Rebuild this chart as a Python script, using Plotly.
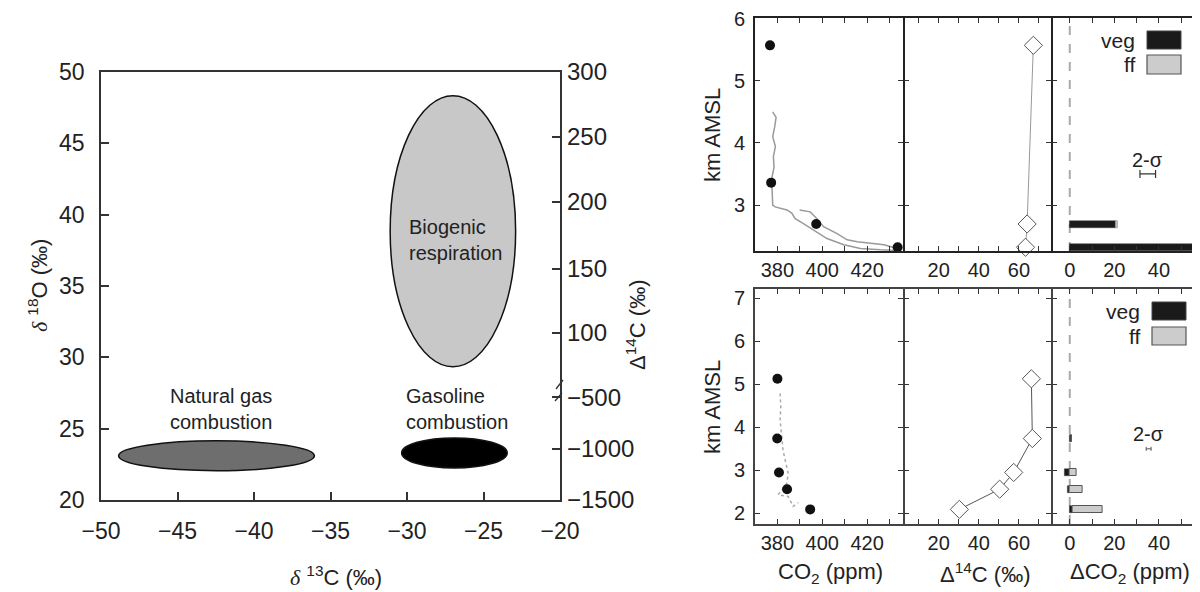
import plotly.graph_objects as go

# ---------------- Left panel: source signatures ----------------
src_labels = ["Biogenic<br>respiration", "Natural gas<br>combustion", "Gasoline<br>combustion"]
src_d13c_center = [-27.0, -42.45, -26.9]
src_d13c_halfwidth = [4.1, 6.4, 3.45]
src_d18o_center = [38.84, 23.1, 23.3]
src_d18o_halfwidth = [9.5, 1.05, 1.05]
src_label_x = [-30.0, -45.6, -30.2]
src_label_y = [38.2, 26.35, 26.35]
src_fill = ["#c8c8c8", "#6e6e6e", "#000000"]

d13c_ticks = [-50, -45, -40, -35, -30, -25, -20]
d18o_ticks = [20, 25, 30, 35, 40, 45, 50]
d14c_tick_labels = ["300", "250", "200", "150", "100", "\u2212500", "\u22121000", "\u22121500"]
d14c_tick_pos = [50.0, 45.44, 40.9, 36.22, 31.7, 27.2, 23.57, 20.0]

# ---------------- Right panels: profiles ----------------
# top row
top_dot_alt = [5.57, 3.36, 2.695, 2.32]
top_dot_co2 = [376.7, 377.2, 397.3, 433.6]
top_lineA_co2 = [377.9, 379.4, 378.8, 377.9, 379.1, 378.2, 378.5, 377.6, 377.6, 377.5, 377.9, 379.0,
                 384.2, 386.4, 387.9, 391.6, 396.1, 402.1, 409.6, 417.0, 426.0, 433.5]
top_lineA_alt = [4.50, 4.41, 4.26, 4.10, 3.94, 3.78, 3.61, 3.45, 3.29, 3.35, 3.00, 2.97,
                 2.92, 2.87, 2.78, 2.70, 2.60, 2.46, 2.36, 2.30, 2.28, 2.27]
top_lineB_co2 = [389.9, 394.6, 397.3, 400.6, 406.6, 411.1, 415.6, 421.5, 427.5, 433.5]
top_lineB_alt = [2.92, 2.89, 2.79, 2.65, 2.54, 2.44, 2.41, 2.39, 2.36, 2.30]
top_d14c_alt = [5.57, 2.695, 2.32]
top_d14c = [67.2, 64.1, 63.3]
top_bar_alt = [2.69, 2.32]
top_veg = [20.4, 55.7]
top_ff = [0.9, 1.8]
top_sigma = [35.0, 3.5, 3.5]  # x, altitude, half width

# bottom row
bot_dot_alt = [5.13, 3.74, 2.95, 2.56, 2.09]
bot_dot_co2 = [380.0, 379.9, 380.7, 384.3, 394.6]
bot_prof_co2 = [381.2, 381.5, 381.2, 381.8, 382.5, 383.6, 384.8, 384.2, 380.3, 384.8, 387.0, 389.3]
bot_prof_alt = [4.79, 4.48, 4.17, 3.86, 3.47, 3.20, 2.93, 2.70, 2.43, 2.39, 2.16, 2.25]
bot_d14c = [66.2, 66.7, 57.4, 50.4, 30.3]
bot_bar_alt = [3.74, 2.95, 2.56, 2.09]
bot_veg = [0.7, -2.4, -1.0, 1.4]
bot_ff = [0.0, 3.0, 5.8, 13.4]
bot_sigma = [35.4, 3.5, 1.1]

co2_ticks = [380, 390, 400, 410, 420, 430]
co2_ticktext = ["380", "", "400", "", "420", ""]
d14c_ticks = [10, 20, 30, 40, 50, 60, 70]
d14c_ticktext = ["", "20", "", "40", "", "60", ""]
dco2_ticks = [0, 10, 20, 30, 40, 50]
dco2_ticktext = ["0", "", "20", "", "40", ""]
top_alt_ticks = [3, 4, 5, 6]
bot_alt_ticks = [2, 3, 4, 5, 6, 7]

# page has an 8 px body margin: work in page pixels and convert
OFF = 8
W, H = 1200 - OFF, 592 - OFF
def px(x):
    return (x - OFF) / W
def py(y):
    return 1 - (y - OFF) / H
def dx(a, b):
    return [px(a), px(b)]
def dy(top, bot):
    return [py(bot), py(top)]

FONT = "Liberation Sans, Arial, sans-serif"
TXT = "#222222"

fig = go.Figure()

# ---------- left panel traces ----------
fig.add_trace(go.Scatter(x=src_d13c_center, y=src_d18o_center, mode="markers",
                         marker=dict(opacity=0), hoverinfo="skip", showlegend=False,
                         xaxis="x", yaxis="y"))
fig.add_trace(go.Scatter(x=src_d13c_center, y=src_d18o_center, mode="markers",
                         marker=dict(opacity=0), hoverinfo="skip", showlegend=False,
                         xaxis="x", yaxis="y2"))

shapes = []
annotations = []
for i in range(len(src_labels)):
    shapes.append(dict(type="circle", xref="x", yref="y",
                       x0=src_d13c_center[i] - src_d13c_halfwidth[i],
                       x1=src_d13c_center[i] + src_d13c_halfwidth[i],
                       y0=src_d18o_center[i] - src_d18o_halfwidth[i],
                       y1=src_d18o_center[i] + src_d18o_halfwidth[i],
                       fillcolor=src_fill[i], line=dict(color="#111111", width=1.5)))
    annotations.append(dict(xref="x", yref="y", x=src_label_x[i], y=src_label_y[i],
                            text=src_labels[i], showarrow=False, xanchor="left",
                            yanchor="middle", align="left",
                            font=dict(family=FONT, size=20, color=TXT)))

# axis break marks on the right axis
shapes.append(dict(type="line", xref="paper", yref="paper", x0=px(556), y0=py(389), x1=px(563), y1=py(380),
                   line=dict(color="#333", width=1.3)))
shapes.append(dict(type="line", xref="paper", yref="paper", x0=px(555), y0=py(401), x1=px(562), y1=py(393),
                   line=dict(color="#333", width=1.3)))

# ---------- right panels traces ----------
line_grey = "#9a9a9a"
fig.add_trace(go.Scatter(x=top_lineA_co2, y=top_lineA_alt, mode="lines",
                         line=dict(color=line_grey, width=1.5), xaxis="x2", yaxis="y3",
                         showlegend=False, hoverinfo="skip"))
fig.add_trace(go.Scatter(x=top_lineB_co2, y=top_lineB_alt, mode="lines",
                         line=dict(color=line_grey, width=1.5), xaxis="x2", yaxis="y3",
                         showlegend=False, hoverinfo="skip"))
fig.add_trace(go.Scatter(x=top_dot_co2, y=top_dot_alt, mode="markers", cliponaxis=False,
                         marker=dict(color="#111111", size=10), xaxis="x2", yaxis="y3",
                         showlegend=False))
fig.add_trace(go.Scatter(x=top_d14c, y=top_d14c_alt, mode="lines+markers", cliponaxis=False,
                         line=dict(color="#999999", width=1),
                         marker=dict(symbol="diamond", size=14, color="white",
                                     line=dict(color="#555555", width=1)),
                         xaxis="x3", yaxis="y4", showlegend=False))
fig.add_trace(go.Bar(x=top_veg, y=top_bar_alt, orientation="h", width=0.11,
                     marker=dict(color="#1a1a1a", line=dict(color="#444", width=0.5)),
                     xaxis="x4", yaxis="y5", showlegend=False))
fig.add_trace(go.Bar(x=top_ff, y=top_bar_alt, orientation="h", width=0.11,
                     marker=dict(color="#cccccc", line=dict(color="#666", width=0.5)),
                     xaxis="x4", yaxis="y5", showlegend=False))
fig.add_trace(go.Scatter(x=[top_sigma[0]], y=[top_sigma[1]], mode="markers",
                         marker=dict(opacity=0),
                         error_x=dict(type="data", array=[top_sigma[2]], color="#333",
                                      thickness=1.2, width=4),
                         xaxis="x4", yaxis="y5", showlegend=False, hoverinfo="skip"))

fig.add_trace(go.Scatter(x=bot_prof_co2, y=bot_prof_alt, mode="lines",
                         line=dict(color="#aaaaaa", width=1.5, dash="dot"), xaxis="x5", yaxis="y6",
                         showlegend=False, hoverinfo="skip"))
fig.add_trace(go.Scatter(x=bot_dot_co2, y=bot_dot_alt, mode="markers", cliponaxis=False,
                         marker=dict(color="#111111", size=10), xaxis="x5", yaxis="y6",
                         showlegend=False))
fig.add_trace(go.Scatter(x=bot_d14c, y=bot_dot_alt, mode="lines+markers", cliponaxis=False,
                         line=dict(color="#555555", width=1),
                         marker=dict(symbol="diamond", size=14, color="white",
                                     line=dict(color="#555555", width=1)),
                         xaxis="x6", yaxis="y7", showlegend=False))
fig.add_trace(go.Bar(x=bot_veg, y=bot_bar_alt, orientation="h", width=0.17,
                     marker=dict(color="#1a1a1a", line=dict(color="#444", width=0.5)),
                     xaxis="x7", yaxis="y8", showlegend=False))
fig.add_trace(go.Bar(x=bot_ff, y=bot_bar_alt, orientation="h", width=0.17,
                     marker=dict(color="#cccccc", line=dict(color="#555", width=1)),
                     xaxis="x7", yaxis="y8", showlegend=False))
fig.add_trace(go.Scatter(x=[bot_sigma[0]], y=[bot_sigma[1]], mode="markers",
                         marker=dict(opacity=0),
                         error_x=dict(type="data", array=[bot_sigma[2]], color="#555",
                                      thickness=1, width=2),
                         xaxis="x7", yaxis="y8", showlegend=False, hoverinfo="skip"))

# zero lines (dashed) in delta-CO2 panels
for xr, yr in (("x4", "y5"), ("x7", "y8")):
    shapes.append(dict(type="line", xref=xr, yref=yr + " domain", x0=0, x1=0, y0=0, y1=1,
                       line=dict(color="#aaaaaa", width=2, dash="dash"), layer="below"))

# sigma labels
annotations.append(dict(xref="x4", yref="y5", x=top_sigma[0], y=3.72, text="2-\u03c3",
                        showarrow=False, xanchor="center", yanchor="middle",
                        font=dict(family=FONT, size=20, color=TXT)))
annotations.append(dict(xref="x7", yref="y8", x=bot_sigma[0], y=3.84, text="2-\u03c3",
                        showarrow=False, xanchor="center", yanchor="middle",
                        font=dict(family=FONT, size=20, color=TXT)))

# legends (veg / ff)
for (xr0, xr1, y_veg, y_ff, x_txt) in ((1147, 1181, (31, 49), (55, 74), 1137),
                                       (1152, 1186, (302, 320), (327, 345), 1142)):
    shapes.append(dict(type="rect", xref="paper", yref="paper", x0=px(xr0), x1=px(xr1),
                       y0=py(y_veg[1]), y1=py(y_veg[0]), fillcolor="#1a1a1a",
                       line=dict(color="#444", width=1)))
    shapes.append(dict(type="rect", xref="paper", yref="paper", x0=px(xr0), x1=px(xr1),
                       y0=py(y_ff[1]), y1=py(y_ff[0]), fillcolor="#cccccc",
                       line=dict(color="#555", width=1.2)))
    annotations.append(dict(xref="paper", yref="paper", x=px(x_txt), y=py((y_veg[0] + y_veg[1]) / 2),
                            text="veg", showarrow=False, xanchor="right", yanchor="middle",
                            font=dict(family=FONT, size=21, color=TXT)))
    annotations.append(dict(xref="paper", yref="paper", x=px(x_txt), y=py((y_ff[0] + y_ff[1]) / 2),
                            text="ff", showarrow=False, xanchor="right", yanchor="middle",
                            font=dict(family=FONT, size=21, color=TXT)))

# axis titles
SERIF_D = "<span style='font-family:Liberation Serif'><i>\u03b4</i></span>"
titles = [
    (38, 285, SERIF_D + " <sup>18</sup>O (\u2030)", -90, 22),
    (336, 576, SERIF_D + " <sup>13</sup>C (\u2030)", 0, 22),
    (636, 325, "\u0394<sup>14</sup>C (\u2030)", -90, 22),
    (712, 135, "km AMSL", -90, 22),
    (712, 407, "km AMSL", -90, 22),
    (830, 573, "CO<sub>2</sub> (ppm)", 0, 22),
    (985, 573, "\u0394<sup>14</sup>C (\u2030)", 0, 22),
    (1130, 573, "\u0394CO<sub>2</sub> (ppm)", 0, 22),
]
for tx, ty, tt, ang, fs in titles:
    annotations.append(dict(xref="paper", yref="paper", x=px(tx), y=py(ty), text=tt,
                            textangle=ang, showarrow=False, xanchor="center", yanchor="middle",
                            font=dict(family=FONT, size=fs, color=TXT)))

# ---------- axes ----------
def base_axis(**kw):
    d = dict(showgrid=False, zeroline=False, ticks="inside", tickcolor="#333",
             showline=True, linecolor="#333", linewidth=1.8, automargin=False,
             ticklabeloverflow="allow",
             tickfont=dict(family=FONT, size=20, color=TXT))
    d.update(kw)
    return d

layout_axes = {}
layout_axes["xaxis"] = base_axis(domain=dx(101, 560), range=[-50, -20], anchor="y",
                                 tickvals=d13c_ticks, ticklen=8, tickwidth=1.5, mirror=True,
                                 tickfont=dict(family=FONT, size=23, color=TXT), ticklabelstandoff=9)
layout_axes["yaxis"] = base_axis(domain=dy(72, 500), range=[20, 50], anchor="x",
                                 tickvals=d18o_ticks, ticklen=8, tickwidth=1.5, mirror=True,
                                 tickfont=dict(family=FONT, size=23, color=TXT), ticklabelstandoff=10)
layout_axes["yaxis2"] = base_axis(overlaying="y", side="right", range=[20, 50], anchor="x",
                                  tickvals=d14c_tick_pos, ticktext=d14c_tick_labels, ticklen=8,
                                  tickwidth=1.5, showline=False,
                                  tickfont=dict(family=FONT, size=24, color=TXT), ticklabelstandoff=6)

LW = 1.6
cols = [(755, 903), (903 + LW, 1051), (1051 + LW, 1199)]
rows = [((18, 251), [2.26, 6.01], top_alt_ticks, "#222"), ((289, 524), [1.75, 7.22], bot_alt_ticks, "#444")]
xspecs = [([370, 436], co2_ticks, co2_ticktext),
          ([3, 76], d14c_ticks, d14c_ticktext),
          ([-7.7, 58], dco2_ticks, dco2_ticktext)]
xi, yi = 2, 3
for (rtop, rbot), yr, ytk, lc in rows:
    for c, (c0, c1) in enumerate(cols):
        xr, xtv, xtt = xspecs[c]
        layout_axes["xaxis%d" % xi] = base_axis(domain=dx(c0, c1), range=xr, anchor="y%d" % yi,
                                                tickvals=xtv, ticktext=xtt, ticklen=5, mirror="ticks",
                                                linecolor=lc, linewidth=LW, ticklabelstandoff=0)
        layout_axes["yaxis%d" % yi] = base_axis(domain=dy(rtop, rbot), range=yr, anchor="x%d" % xi,
                                                tickvals=ytk, ticklen=5, mirror="ticks",
                                                linecolor=lc, linewidth=LW, showticklabels=(c == 0),
                                                ticklabelstandoff=4)
        xi += 1
        yi += 1

fig.update_layout(
    width=W, height=H, margin=dict(l=0, r=0, t=0, b=0, autoexpand=False),
    paper_bgcolor="white", plot_bgcolor="rgba(0,0,0,0)",
    barmode="relative", bargap=0, showlegend=False,
    shapes=shapes, annotations=annotations,
    font=dict(family=FONT, color=TXT),
    **layout_axes,
)

fig.write_html("out.html")
